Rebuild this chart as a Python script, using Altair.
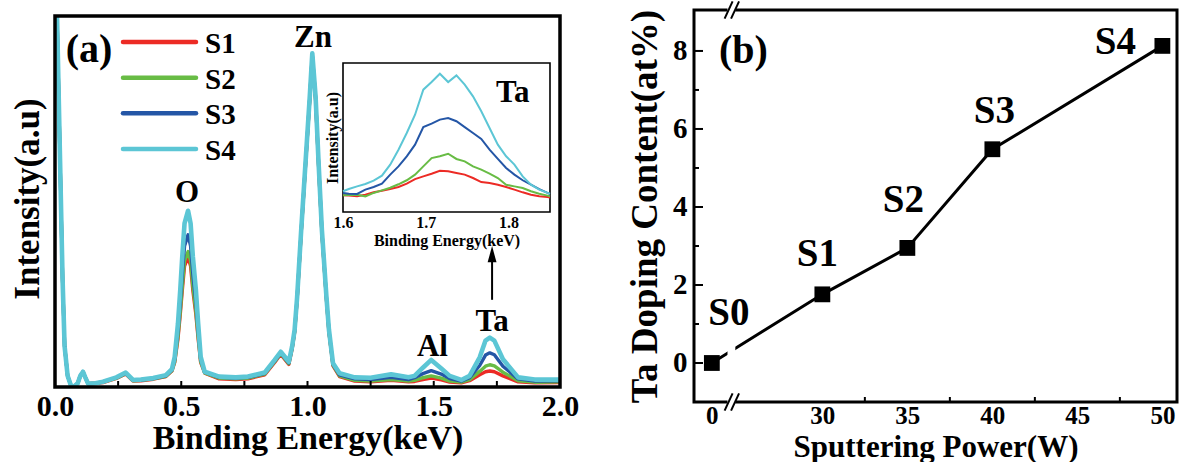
import altair as alt
import pandas as pd

FONT = "Liberation Serif"

# ---------------- panel (a): EDS spectra ----------------
energy = [0.008, 0.020, 0.030, 0.038, 0.050, 0.062, 0.074, 0.090, 0.100, 0.111,
          0.120, 0.131, 0.160, 0.190, 0.243, 0.280, 0.309, 0.340, 0.389, 0.439,
          0.463, 0.474, 0.487, 0.496, 0.504, 0.513, 0.527, 0.537, 0.546, 0.558,
          0.567, 0.577, 0.593, 0.650, 0.716, 0.764, 0.831, 0.870, 0.894, 0.926,
          0.939, 0.949, 0.959, 0.975, 0.992, 1.009, 1.019, 1.032, 1.044, 1.057,
          1.075, 1.085, 1.101, 1.127, 1.187, 1.250, 1.331, 1.400, 1.424, 1.457,
          1.490, 1.530, 1.563, 1.609, 1.642, 1.682, 1.705, 1.722, 1.740, 1.774,
          1.834, 1.900, 2.000]
s4 = [100, 61, 29, 11, 3, 0.6, 0, 1.0, 3.0, 4.1,
      2.6, 0.9, 1.0, 1.4, 2.6, 3.9, 1.9, 2.0, 2.4, 3.2,
      4.8, 8.1, 17.1, 26.1, 35.1, 44.1, 47.5, 44.1, 35.1, 26.1,
      17.1, 8.1, 4.1, 2.8, 2.6, 2.8, 3.9, 7.3, 9.5, 6.8,
      10.9, 15.4, 24.3, 42.3, 60.3, 78.3, 89.9, 78.3, 60.3, 42.3,
      24.3, 15.4, 6.4, 3.7, 2.6, 2.5, 3.4, 2.6, 3.0, 5.2,
      7.3, 5.0, 3.0, 1.9, 3.0, 8.0, 12.5, 13.3, 12.5, 7.5,
      2.6, 2.0, 2.0]
s3 = [100, 61, 29, 11, 3, 0.6, 0, 1.0, 3.0, 4.1,
      2.6, 0.9, 1.0, 1.4, 2.5, 3.7, 1.8, 1.9, 2.3, 3.0,
      4.6, 7.4, 15.0, 22.8, 30.4, 38.0, 41.0, 38.0, 30.4, 22.8,
      15.0, 7.4, 4.0, 2.6, 2.4, 2.6, 3.7, 7.0, 9.2, 6.5,
      10.6, 15.1, 24.0, 42.0, 60.0, 78.0, 89.6, 78.0, 60.0, 42.0,
      24.0, 15.1, 6.1, 3.3, 2.2, 2.0, 2.6, 2.0, 2.5, 3.6,
      4.4, 3.5, 2.3, 1.6, 2.5, 5.8, 8.6, 9.2, 8.7, 5.6,
      2.2, 1.6, 1.7]
s2 = [100, 61, 29, 11, 3, 0.6, 0, 1.0, 3.0, 4.1,
      2.6, 0.9, 1.0, 1.3, 2.4, 3.6, 1.7, 1.8, 2.2, 2.9,
      4.4, 6.8, 13.6, 20.4, 27.2, 34.0, 36.5, 34.0, 27.2, 20.4,
      13.6, 6.8, 3.8, 2.4, 2.2, 2.4, 3.5, 6.8, 9.0, 6.3,
      10.4, 14.9, 23.8, 41.8, 59.8, 77.8, 89.4, 77.8, 59.8, 41.8,
      23.8, 14.9, 5.9, 3.0, 1.8, 1.6, 2.0, 1.6, 1.8, 2.5,
      3.0, 2.4, 1.6, 1.3, 2.0, 4.2, 5.6, 6.0, 5.7, 4.0,
      1.7, 1.3, 1.4]
s1 = [100, 61, 29, 11, 3, 0.6, 0, 1.0, 3.0, 4.1,
      2.6, 0.9, 1.0, 1.2, 2.3, 3.5, 1.6, 1.7, 2.1, 2.8,
      4.3, 6.6, 13.0, 19.5, 26.0, 32.6, 35.0, 32.6, 26.0, 19.5,
      13.0, 6.6, 3.7, 2.2, 2.0, 2.2, 3.3, 6.6, 8.8, 6.1,
      10.2, 14.7, 23.6, 41.6, 59.6, 77.6, 89.2, 77.6, 59.6, 41.6,
      23.6, 14.7, 5.7, 2.8, 1.6, 1.4, 1.8, 1.4, 1.5, 2.0,
      2.4, 1.9, 1.3, 1.1, 1.7, 3.3, 4.1, 4.3, 4.1, 3.0,
      1.4, 1.1, 1.2]

series_names = ["S1", "S2", "S3", "S4"]
series_colors = ["#ec2b25", "#68bc45", "#2456a6", "#5cc6d5"]

inset_energy = [1.600, 1.607, 1.617, 1.627, 1.637, 1.647, 1.657, 1.667, 1.677,
                1.687, 1.697, 1.707, 1.717, 1.727, 1.737, 1.747, 1.757, 1.767,
                1.777, 1.787, 1.797, 1.807, 1.817, 1.827, 1.837, 1.847, 1.850]
inset_s4 = [13.9, 15.4, 17.2, 18.8, 21.0, 24.4, 31.8, 41.8, 53.0, 65.3, 82.1, 87.2,
            92.8, 87.2, 91.7, 85.5, 77.6, 67.6, 56.4, 45.2, 37.4, 31.8, 23.9, 18.3,
            15.0, 12.8, 12.3]
inset_s3 = [12.8, 12.3, 12.1, 15.0, 16.8, 19.0, 25.1, 30.6, 37.4, 45.2, 57.0, 59.3,
            62.0, 63.1, 60.9, 57.0, 53.0, 49.0, 41.8, 35.6, 29.5, 25.1, 21.3, 18.3,
            15.4, 12.8, 12.1]
inset_s2 = [11.2, 11.4, 11.6, 10.5, 12.8, 14.5, 16.3, 18.6, 21.3, 25.1, 30.6, 36.2,
            37.4, 39.1, 35.6, 34.0, 30.6, 28.4, 25.7, 22.8, 18.3, 17.2, 16.1, 13.9,
            12.3, 11.0, 10.5]
inset_s1 = [11.2, 11.0, 10.5, 11.6, 13.2, 14.3, 15.4, 16.8, 19.0, 22.1, 23.9, 25.7,
            27.7, 27.3, 26.2, 25.1, 22.8, 20.1, 19.5, 18.3, 16.8, 15.0, 13.2, 11.6,
            10.5, 10.1, 9.8]

peak_labels = ["O", "Zn", "Al", "Ta"]
peak_label_x = [0.523, 1.022, 1.495, 1.731]
peak_label_y = [52.2, 94.0, 10.9, 17.6]

x_ticks_a = [0.0, 0.5, 1.0, 1.5, 2.0]
minor_ticks_a = [0.25, 0.5, 0.75, 1.0, 1.25, 1.5, 1.75]
inset_ticks = [1.6, 1.7, 1.8]

# ---------------- panel (b): Ta content ----------------
samples = ["S0", "S1", "S2", "S3", "S4"]
power = [0, 30, 35, 40, 50]
ta_content = [0.0, 1.76, 2.95, 5.48, 8.13]
x_ticks_b = [0, 30, 35, 40, 45, 50]
y_ticks_b = [0, 2, 4, 6, 8]
y_minor_b = [1, 3, 5, 7]
x_minor_b = [32.5, 37.5, 42.5, 47.5]

# ---------------- layout constants ----------------
LEFT_W, LEFT_H = 505, 377
RIGHT_W, RIGHT_H = 483, 392
INSET_X_RANGE = [288, 495]
INSET_Y_RANGE = [202, 53]
LEGEND_Y_RANGE = [32, 139]
BREAK_ZERO = 23.5  # position of the "0" tick on the broken axis

# ================= panel (a) =================
XA_SCALE = alt.Scale(domain=[0, 2], nice=False, zero=False)
YA_SCALE = alt.Scale(domain=[0, 101.6], nice=False, zero=False)
XA_AXIS = alt.Axis(values=x_ticks_a, format=".1f", title="Binding Energy(keV)",
                   ticks=False, domain=False, labelFontSize=30, labelPadding=4,
                   labelFlush=False, labelOverlap=False, titleFontSize=34, titlePadding=0)
YA_AXIS = alt.Axis(labels=False, ticks=False, domain=False, title="Intensity(a.u)",
                   titleFontSize=35, titlePadding=10)


def xa(f):
    return alt.X(f, scale=XA_SCALE, axis=XA_AXIS)


def ya(f):
    return alt.Y(f, scale=YA_SCALE, axis=YA_AXIS)


spec_df = pd.DataFrame({
    "energy": energy * 4,
    "intensity": s1 + s2 + s3 + s4,
    "series": [n for n in series_names for _ in energy],
})

spec_layers = []
for name, color in zip(series_names, series_colors):
    spec_layers.append(
        alt.Chart(spec_df).transform_filter(alt.datum.series == name)
        .mark_line(color=color, strokeWidth=4.6 if name == "S4" else 3.4,
                   clip=True, strokeJoin="round")
        .encode(x=xa("energy:Q"), y=ya("intensity:Q"))
    )

ticks_a = alt.Chart(pd.DataFrame({"t": minor_ticks_a})).mark_rule(
    color="black", strokeWidth=2).encode(
    x=xa("t:Q"), y=alt.value(LEFT_H), y2=alt.value(LEFT_H - 6))

ann_a = alt.Chart(pd.DataFrame({"label": peak_labels, "x": peak_label_x,
                                "y": peak_label_y})).mark_text(
    font=FONT, fontSize=31, fontWeight="bold", color="black").encode(
    x=xa("x:Q"), y=ya("y:Q"), text="label:N")

tag_a = alt.Chart(pd.DataFrame({"label": ["(a)"], "x": [0.135], "y": [90.8]})).mark_text(
    font=FONT, fontSize=40, fontWeight="bold", color="black").encode(
    x=xa("x:Q"), y=ya("y:Q"), text="label:N")

arrow_df = pd.DataFrame({"x": [1.731], "y0": [23.5], "y1": [34.5], "yh": [35.8]})
arrow_line = alt.Chart(arrow_df).mark_rule(color="black", strokeWidth=2).encode(
    x=xa("x:Q"), y=ya("y0:Q"), y2="y1:Q")
arrow_head = alt.Chart(arrow_df).mark_point(
    shape="M0,-1L0.55,1L-0.55,1Z", filled=True, color="black", size=260, opacity=1).encode(
    x=xa("x:Q"), y=ya("yh:Q"))

frame_a = alt.Chart(pd.DataFrame({"x0": [0.0], "x1": [2.0], "y0": [0.0], "y1": [100.0]})).mark_rect(
    fillOpacity=0, stroke="black", strokeWidth=3.5).encode(
    x=xa("x0:Q"), x2="x1:Q", y=ya("y0:Q"), y2="y1:Q")

main_group = alt.layer(*spec_layers, ticks_a, ann_a, tag_a, arrow_line, arrow_head, frame_a)

# legend drawn as marks (one row per series)
legend_df = pd.DataFrame({"series": series_names, "row": list(range(len(series_names)))})
leg_y = alt.Y("row:Q", scale=alt.Scale(domain=[0, len(series_names) - 1], range=LEGEND_Y_RANGE,
                                       nice=False, zero=False), axis=None)
leg_lines = alt.Chart(legend_df).mark_rule(strokeWidth=4.5, strokeCap="round").encode(
    x=alt.value(68), x2=alt.value(141), y=leg_y,
    color=alt.Color("series:N", scale=alt.Scale(domain=series_names, range=series_colors),
                    legend=None))
leg_text = alt.Chart(legend_df).mark_text(
    align="left", baseline="middle", font=FONT, fontSize=29, fontWeight="bold",
    color="black", dy=2).encode(x=alt.value(150), y=leg_y, text="series:N")
legend_group = alt.layer(leg_lines, leg_text)

# inset
XI_SCALE = alt.Scale(domain=[1.6, 1.85], range=INSET_X_RANGE, nice=False, zero=False)
YI_SCALE = alt.Scale(domain=[0, 100], range=INSET_Y_RANGE, nice=False, zero=False)
XI_AXIS = alt.Axis(values=inset_ticks, format=".1f", orient="bottom",
                   offset=-(LEFT_H - INSET_Y_RANGE[0]), title="Binding Energy(keV)",
                   ticks=False, domain=False, labelFontSize=16, labelPadding=2,
                   labelFlush=False, labelOverlap=False, titleFontSize=16, titlePadding=2)
YI_AXIS = alt.Axis(orient="left", offset=-INSET_X_RANGE[0], labels=False, ticks=False,
                   domain=False, title="Intensity(a.u)", titleFontSize=16, titlePadding=3)


def xi(f):
    return alt.X(f, scale=XI_SCALE, axis=XI_AXIS)


def yi(f):
    return alt.Y(f, scale=YI_SCALE, axis=YI_AXIS)


inset_df = pd.DataFrame({
    "energy": inset_energy * 4,
    "intensity": inset_s1 + inset_s2 + inset_s3 + inset_s4,
    "series": [n for n in series_names for _ in inset_energy],
})
inset_frame = alt.Chart(pd.DataFrame({"x0": [1.6], "x1": [1.85], "y0": [0.0], "y1": [100.0]})).mark_rect(
    fill="white", stroke="black", strokeWidth=1.6).encode(
    x=xi("x0:Q"), x2="x1:Q", y=yi("y0:Q"), y2="y1:Q")
inset_lines = []
for name, color in zip(series_names, series_colors):
    inset_lines.append(
        alt.Chart(inset_df).transform_filter(alt.datum.series == name)
        .mark_line(color=color, strokeWidth=2)
        .encode(x=xi("energy:Q"), y=yi("intensity:Q"))
    )
inset_tag = alt.Chart(pd.DataFrame({"label": ["Ta"], "x": [1.805], "y": [80.0]})).mark_text(
    font=FONT, fontSize=31, fontWeight="bold", color="black").encode(
    x=xi("x:Q"), y=yi("y:Q"), text="label:N")
inset_group = alt.layer(inset_frame, *inset_lines, inset_tag)

left = alt.layer(main_group, legend_group, inset_group).resolve_scale(
    x="independent", y="independent").properties(width=LEFT_W, height=LEFT_H)

# ================= panel (b) =================
XR_SCALE = alt.Scale(domain=[22.45, 50.86], nice=False, zero=False)
YR_SCALE = alt.Scale(domain=[-1, 9.05], nice=False, zero=False)
XR_AXIS = alt.Axis(values=[BREAK_ZERO if v == 0 else v for v in x_ticks_b],
                   labelExpr="datum.value < 25 ? '0' : datum.label",
                   title="Sputtering Power(W)", ticks=False, domain=False,
                   labelFontSize=25, labelPadding=1, labelFlush=False, labelOverlap=False,
                   titleFontSize=31, titlePadding=4)
YR_AXIS = alt.Axis(values=y_ticks_b, title="Ta Doping Content(at%)", ticks=False,
                   domain=False, labelFontSize=29, labelPadding=7, titleFontSize=37,
                   titlePadding=8)


def xr(f):
    return alt.X(f, scale=XR_SCALE, axis=XR_AXIS)


def yr(f):
    return alt.Y(f, scale=YR_SCALE, axis=YR_AXIS)


b_df = pd.DataFrame({
    "sample": samples,
    "power": power,
    "xpos": [BREAK_ZERO if p == 0 else p for p in power],
    "content": ta_content,
})

frame_b = alt.Chart(pd.DataFrame({"x0": [22.45], "x1": [50.86], "y0": [-1.0], "y1": [9.05]})).mark_rect(
    fillOpacity=0, stroke="black", strokeWidth=3).encode(
    x=xr("x0:Q"), x2="x1:Q", y=yr("y0:Q"), y2="y1:Q")
line_b = alt.Chart(b_df).mark_line(color="black", strokeWidth=3).encode(
    x=xr("xpos:Q"), y=yr("content:Q"))
band_b = alt.Chart(pd.DataFrame({"x0": [24.42], "x1": [24.88], "y0": [-1.2], "y1": [9.25]})).mark_rect(
    fill="white", opacity=1).encode(x=xr("x0:Q"), x2="x1:Q", y=yr("y0:Q"), y2="y1:Q")
slash_df = pd.DataFrame({
    "x0": [24.25, 24.63, 24.25, 24.63],
    "x1": [24.72, 25.10, 24.72, 25.10],
    "y0": [-1.22, -1.22, 8.83, 8.83],
    "y1": [-0.78, -0.78, 9.27, 9.27],
})
slashes_b = alt.Chart(slash_df).mark_rule(color="black", strokeWidth=2).encode(
    x=xr("x0:Q"), x2="x1:Q", y=yr("y0:Q"), y2="y1:Q")
squares_b = alt.Chart(b_df).mark_square(size=250, color="black", opacity=1).encode(
    x=xr("xpos:Q"), y=yr("content:Q"))

label_offsets = {"S0": (17, -50), "S1": (-5, -40), "S2": (-4, -48), "S3": (2, -38),
                 "S4": (-47, -4)}
label_layers = []
for s in samples:
    dx, dy = label_offsets[s]
    label_layers.append(
        alt.Chart(b_df).transform_filter(alt.datum.sample == s)
        .mark_text(font=FONT, fontSize=39, fontWeight="bold", color="black", dx=dx, dy=dy)
        .encode(x=xr("xpos:Q"), y=yr("content:Q"), text="sample:N")
    )

tag_b = alt.Chart(pd.DataFrame({"label": ["(b)"], "x": [25.36], "y": [7.99]})).mark_text(
    font=FONT, fontSize=40, fontWeight="bold", color="black").encode(
    x=xr("x:Q"), y=yr("y:Q"), text="label:N")

yt_major = alt.Chart(pd.DataFrame({"t": y_ticks_b})).mark_rule(color="black", strokeWidth=2).encode(
    y=yr("t:Q"), x=alt.value(0), x2=alt.value(9))
yt_minor = alt.Chart(pd.DataFrame({"t": y_minor_b})).mark_rule(color="black", strokeWidth=2).encode(
    y=yr("t:Q"), x=alt.value(0), x2=alt.value(5))
xt_minor = alt.Chart(pd.DataFrame({"t": x_minor_b})).mark_rule(color="black", strokeWidth=2).encode(
    x=xr("t:Q"), y=alt.value(RIGHT_H), y2=alt.value(RIGHT_H - 5))

right = alt.layer(frame_b, line_b, band_b, slashes_b, squares_b, *label_layers, tag_b,
                  yt_major, yt_minor, xt_minor).properties(width=RIGHT_W, height=RIGHT_H)

chart = alt.hconcat(left, right, spacing=134, bounds="flush").properties(
    padding={"left": 10, "top": 0, "right": 0, "bottom": 0}
).configure_view(strokeWidth=0).configure_axis(
    labelFont=FONT, titleFont=FONT, labelFontWeight="bold", titleFontWeight="bold",
    labelColor="black", titleColor="black", grid=False)

chart.save("out.html", embed_options={"renderer": "svg", "actions": False})
